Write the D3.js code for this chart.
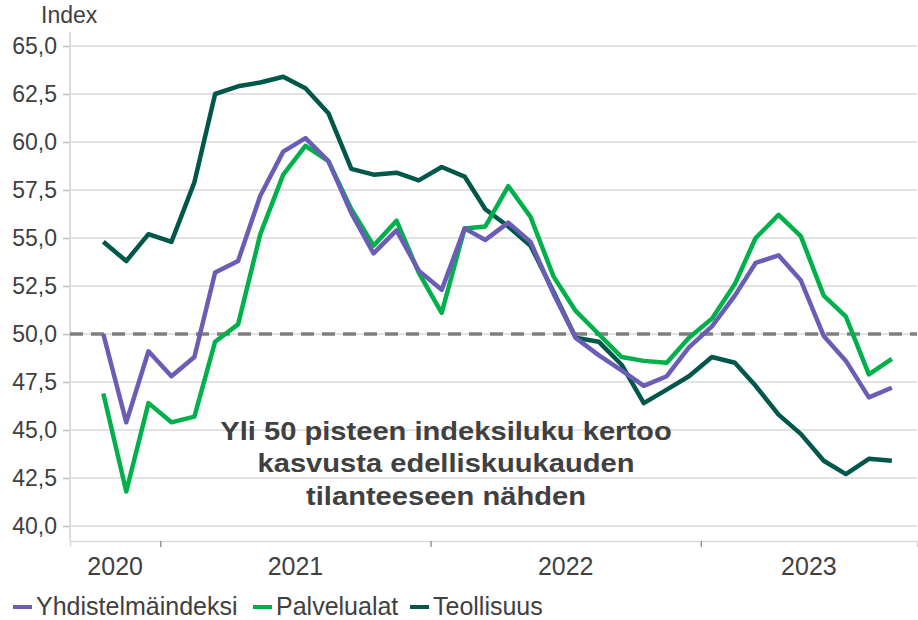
<!DOCTYPE html>
<html>
<head>
<meta charset="utf-8">
<script src="https://cdn.jsdelivr.net/npm/d3@7"></script>
<style>
  body { margin: 0; background: #fff; }
  text { font-family: "Liberation Sans", Arial, sans-serif; fill: #404040; }
</style>
</head>
<body>
<div id="chart"></div>
<script>
// Months (monthly data, Oct 2020 - Sep 2023)
var months = ['2020-10', '2020-11', '2020-12',
  '2021-01', '2021-02', '2021-03', '2021-04', '2021-05', '2021-06', '2021-07', '2021-08', '2021-09', '2021-10', '2021-11', '2021-12',
  '2022-01', '2022-02', '2022-03', '2022-04', '2022-05', '2022-06', '2022-07', '2022-08', '2022-09', '2022-10', '2022-11', '2022-12',
  '2023-01', '2023-02', '2023-03', '2023-04', '2023-05', '2023-06', '2023-07', '2023-08', '2023-09'];

var yhdistelma = [50.0, 45.4, 49.1, 47.8, 48.8, 53.2, 53.8, 57.2, 59.5, 60.2, 59.0, 56.3,
  54.2, 55.4, 53.3, 52.3, 55.5, 54.9, 55.8, 54.8, 52.1, 49.8, 48.9, 48.1,
  47.3, 47.8, 49.3, 50.4, 52.0, 53.7, 54.1, 52.8, 49.9, 48.6, 46.7, 47.2];

var palvelut = [46.9, 41.8, 46.4, 45.4, 45.7, 49.6, 50.5, 55.2, 58.3, 59.8, 59.0, 56.5,
  54.6, 55.9, 53.2, 51.1, 55.5, 55.6, 57.7, 56.1, 53.0, 51.2, 50.0, 48.8,
  48.6, 48.5, 49.8, 50.8, 52.6, 55.0, 56.2, 55.1, 52.0, 50.9, 47.9, 48.7];

var teollisuus = [54.8, 53.8, 55.2, 54.8, 57.9, 62.5, 62.9, 63.1, 63.4, 62.8, 61.5, 58.6,
  58.3, 58.4, 58.0, 58.7, 58.2, 56.5, 55.6, 54.6, 52.2, 49.8, 49.6, 48.4,
  46.4, 47.1, 47.8, 48.8, 48.5, 47.3, 45.8, 44.8, 43.4, 42.7, 43.5, 43.4];

var yTicks = [40, 42.5, 45, 47.5, 50, 52.5, 55, 57.5, 60, 62.5, 65];
var years = [2020, 2021, 2022, 2023];

var seriesNames = ['Yhdistelmäindeksi', 'Palvelualat', 'Teollisuus'];
var seriesColors = ['#6a5db5', '#00b04a', '#00574a'];

var annotation = ['Yli 50 pisteen indeksiluku kertoo', 'kasvusta edelliskuukauden', 'tilanteeseen nähden'];

// Dimensions
var dims = {
  width: 918,
  height: 620,
  left: 70,
  right: 917,
  top: 32,
  bottom: 541
};

// Each point sits mid-month
var parseMonth = d3.timeParse('%Y-%m');
var dates = months.map(function (m) { var d = parseMonth(m); d.setDate(16); return d; });

var x = d3.scaleTime()
  .domain([new Date(2020, 8, 1), new Date(2023, 9, 20)])
  .range([dims.left, dims.right]);

var y = d3.scaleLinear()
  .domain([40, 65])
  .range([526, 46]);

var svg = d3.select('#chart')
  .append('svg')
  .attr('width', dims.width)
  .attr('height', dims.height);

// Gridlines
svg.append('g')
  .selectAll('line')
  .data(yTicks)
  .enter().append('line')
  .attr('x1', dims.left)
  .attr('x2', dims.right)
  .attr('y1', function (d) { return y(d); })
  .attr('y2', function (d) { return y(d); })
  .style('stroke', '#d9d9d9')
  .style('stroke-width', 1.5);

// Y axis
var yAxis = d3.axisLeft(y)
  .tickValues(yTicks)
  .tickSize(7)
  .tickPadding(6)
  .tickFormat(function (d) { return d3.format('.1f')(d).replace('.', ','); });

var yg = svg.append('g')
  .attr('transform', 'translate(' + dims.left + ',0)')
  .call(yAxis);
yg.select('.domain').remove();
yg.selectAll('.tick line').style('stroke', '#bfbfbf').style('stroke-width', 1.5);
yg.selectAll('.tick text').style('font-size', '23px').style('fill', '#404040').attr('font-family', null);

svg.append('line')
  .attr('x1', dims.left).attr('x2', dims.left)
  .attr('y1', dims.top).attr('y2', dims.bottom)
  .style('stroke', '#d0d0d0')
  .style('stroke-width', 1.5);

// X axis: ticks on year boundaries, labels centred in each year
var xAxis = d3.axisBottom(x)
  .tickValues([new Date(2021, 0, 1), new Date(2022, 0, 1), new Date(2023, 0, 1)])
  .tickSize(6)
  .tickFormat('');

var xg = svg.append('g')
  .attr('transform', 'translate(0,' + dims.bottom + ')')
  .call(xAxis);
xg.select('.domain').style('stroke', '#d9d9d9').style('stroke-width', 1.5);
xg.selectAll('.tick line').style('stroke', '#7f7f7f').style('stroke-width', 1.2);

svg.append('g')
  .selectAll('text')
  .data(years)
  .enter().append('text')
  .attr('x', function (d) {
    var a = Math.max(x(new Date(d, 0, 1)), dims.left);
    var b = Math.min(x(new Date(d + 1, 0, 1)), dims.right);
    return (a + b) / 2;
  })
  .attr('y', 575)
  .attr('text-anchor', 'middle')
  .style('font-size', '25px')
  .text(function (d) { return d; });

// "Index" label
svg.append('text')
  .attr('x', 41)
  .attr('y', 23)
  .style('font-size', '23px')
  .text('Index');

// 50 reference line
svg.append('line')
  .attr('x1', dims.left)
  .attr('x2', dims.right)
  .attr('y1', y(50))
  .attr('y2', y(50))
  .style('stroke', '#7f7f7f')
  .style('stroke-width', 3.5)
  .style('stroke-dasharray', '13,8');

// Lines (Teollisuus at the back)
var allSeries = [yhdistelma, palvelut, teollisuus];
var line = d3.line()
  .x(function (d, i) { return x(dates[i]); })
  .y(function (d) { return y(d); });

[2, 1, 0].forEach(function (k) {
  svg.append('path')
    .datum(allSeries[k])
    .attr('d', line)
    .style('fill', 'none')
    .style('stroke', seriesColors[k])
    .style('stroke-width', 4.5)
    .style('stroke-linejoin', 'round');
});

// Annotation (the original bold face runs a bit wider than Arial)
svg.append('g')
  .attr('transform', 'translate(446,0) scale(1.12,1)')
  .selectAll('text')
  .data(annotation)
  .enter().append('text')
  .attr('x', 0)
  .attr('y', function (d, i) { return 440 + i * 32.5; })
  .attr('text-anchor', 'middle')
  .style('font-size', '26px')
  .style('font-weight', 'bold')
  .text(function (d) { return d; });

// Legend
var legendX = [13, 253, 410];
var legend = svg.append('g')
  .selectAll('g')
  .data(seriesNames)
  .enter().append('g')
  .attr('transform', function (d, i) { return 'translate(' + legendX[i] + ',0)'; });

legend.append('line')
  .attr('x1', 0).attr('x2', 19)
  .attr('y1', 607).attr('y2', 607)
  .style('stroke', function (d, i) { return seriesColors[i]; })
  .style('stroke-width', 4);

legend.append('text')
  .attr('x', 23)
  .attr('y', 615)
  .style('font-size', '25px')
  .text(function (d) { return d; });
</script>
</body>
</html>
